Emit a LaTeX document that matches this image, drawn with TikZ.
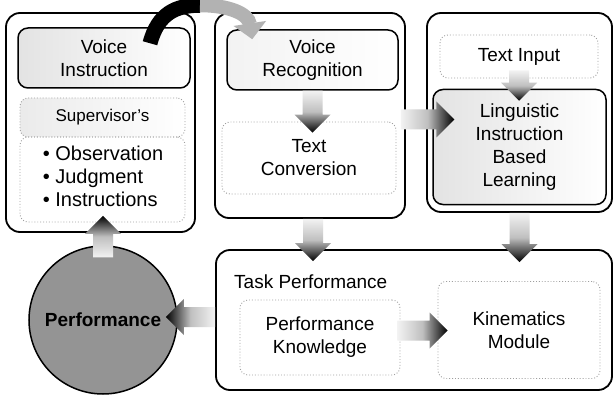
\documentclass[tikz,border=0pt]{standalone}
\usepackage{fontspec}
\setmainfont{Liberation Sans}
\usetikzlibrary{calc,arrows.meta}
\newcommand\mylbl{\fontsize{19}{23}\selectfont}
\newcommand\mysmall{\fontsize{17}{20}\selectfont}
\newcommand\mybul{\fontsize{20}{23}\selectfont}
% block arrows: #1 tail, #2 tip
\newcommand\arrdown[2]{\shade[top color=gray!10, bottom color=black, middle color=gray!50] let \p1=(#1), \p2=(#2) in
  (\x1-10pt,\y1) -- (\x1+10pt,\y1) -- (\x1+10pt,\y2+18pt) -- (\x1+18pt,\y2+18pt) -- (\x1,\y2) -- (\x1-18pt,\y2+18pt) -- (\x1-10pt,\y2+18pt) -- cycle;}
\newcommand\arrup[2]{\shade[bottom color=gray!10, top color=black, middle color=gray!50] let \p1=(#1), \p2=(#2) in
  (\x1-10pt,\y1) -- (\x1+10pt,\y1) -- (\x1+10pt,\y2-18pt) -- (\x1+18pt,\y2-18pt) -- (\x1,\y2) -- (\x1-18pt,\y2-18pt) -- (\x1-10pt,\y2-18pt) -- cycle;}
\newcommand\arrright[2]{\shade[left color=gray!10, right color=black, middle color=gray!50] let \p1=(#1), \p2=(#2) in
  (\x1,\y1-10pt) -- (\x1,\y1+10pt) -- (\x2-18pt,\y1+10pt) -- (\x2-18pt,\y1+18pt) -- (\x2,\y1) -- (\x2-18pt,\y1-18pt) -- (\x2-18pt,\y1-10pt) -- cycle;}
\newcommand\arrleft[2]{\shade[right color=gray!10, left color=black, middle color=gray!50] let \p1=(#1), \p2=(#2) in
  (\x1,\y1-10pt) -- (\x1,\y1+10pt) -- (\x2+18pt,\y1+10pt) -- (\x2+18pt,\y1+18pt) -- (\x2,\y1) -- (\x2+18pt,\y1-18pt) -- (\x2+18pt,\y1-10pt) -- cycle;}
\begin{document}
\begin{tikzpicture}[x=1pt,y=-1pt,
  outer/.style={draw=black, line width=1.8pt, rounded corners=14pt, fill=white, inner sep=0pt},
  solidin/.style={draw=black, line width=1.5pt, rounded corners=10pt, left color=gray!22, right color=white, align=center, font=\mylbl, inner sep=0pt},
  dotin/.style={draw=gray!75, dotted, line width=0.9pt, rounded corners=8pt, align=center, font=\mylbl, inner sep=0pt},
  txt/.style={align=center, font=\mylbl, inner sep=0pt}]
\fill[white] (0,0) rectangle (614,396);
\useasboundingbox (0,0) rectangle (614,396);

% outer boxes
\node[outer, minimum width=189pt, minimum height=219pt] (L) at (100.5,122.5) {};
\node[outer, minimum width=190pt, minimum height=205pt] (M) at (310,115.5) {};
\node[outer, minimum width=185pt, minimum height=199pt] (R) at (519.5,112.5) {};
\node[outer, minimum width=396pt, minimum height=140pt] (T) at (414,320) {};

% left column
\node[solidin, minimum width=172pt, minimum height=60pt] (VI) at (104,58) {Voice\\Instruction};
\node[dotin, left color=gray!16, right color=white, minimum width=165pt, minimum height=39pt, font=\mysmall] (SUP) at (102.5,117.5) {Supervisor's};
\node[dotin, minimum width=165pt, minimum height=85pt] (BUL) at (102.5,179.5) {};
\node[align=left, font=\mybul, inner sep=0pt] (BT) at (103,176) {• Observation\\• Judgment\\• Instructions};

% middle column
\node[solidin, left color=gray!10, minimum width=171pt, minimum height=60pt] (VR) at (312.5,60) {Voice\\Recognition};
\node[dotin, minimum width=174pt, minimum height=72pt] (TC) at (309,158) {Text\\Conversion};

% right column
\node[dotin, minimum width=158pt, minimum height=43pt] (TI) at (519,56.5) {Text Input};
\node[solidin, minimum width=173pt, minimum height=115pt] (LIB) at (519.5,147) {Linguistic\\Instruction\\Based\\Learning};

% task performance
\node[txt, anchor=west] (TPL) at (234,282) {Task Performance};
\node[dotin, minimum width=160pt, minimum height=75pt] (PK) at (320,337.5) {Performance\\Knowledge};
\node[dotin, minimum width=162pt, minimum height=97pt] (KM) at (519,330) {Kinematics\\Module};

% performance circle
\node[circle, draw=black, line width=1.5pt, fill=black!42, minimum size=148pt, inner sep=0pt, font=\fontsize{19}{23}\selectfont\bfseries] (P) at (103,320) {Performance};

% block arrows
\arrdown{VR.south}{$(TC.north)+(0,11)$}
\arrdown{$(M.south)+(3,0)$}{$(T.north)+(0,12)$}
\arrdown{R.south}{$(T.north)+(0,13)$}
\arrdown{$(TI.south)+(0,-8)$}{$(LIB.north)+(0,12)$}
\arrright{$(M.east)+(-5,4)$}{$(LIB.west)+(22,0)$}
\arrright{$(PK.east)+(-3,-7)$}{$(KM.west)+(10,0)$}
\arrleft{$(T.west)+(0,-3)$}{$(P.east)+(-12,0)$}
\arrup{$(P.north)+(0,12)$}{$(L.south)+(0,-17)$}

% curved arrow from Voice Instruction to Voice Recognition
\coordinate (cs) at ($(VI.north)+(46,16)$);
\coordinate (cm) at ($(VI.north)+(96,-22)$);
\coordinate (ce) at ($(VR.north west)+(26,10)$);
\draw[line width=15pt, black] (cs) .. controls ($(cs)+(8,-30)$) and ($(cm)+(-24,0)$) .. (cm);
\draw[line width=14pt, gray!60, -{Triangle[length=16pt,width=32pt]}] (cm) .. controls ($(cm)+(28,0)$) and ($(ce)+(-4,-26)$) .. (ce);
\end{tikzpicture}
\end{document}
